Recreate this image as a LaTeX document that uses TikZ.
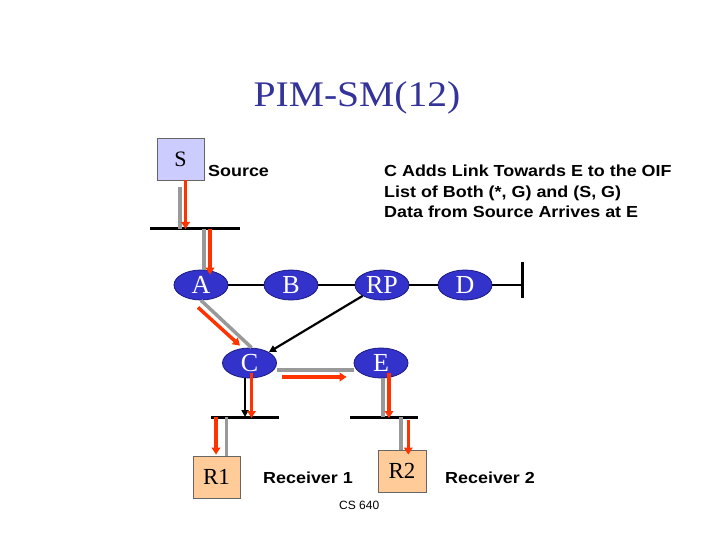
\documentclass[tikz,border=0pt]{standalone}
\usepackage{fontspec}
\setmainfont{Liberation Serif}
\newfontfamily\arialfont{Liberation Sans}
\usetikzlibrary{arrows.meta,shapes.geometric}
\definecolor{titleblue}{HTML}{333399}
\definecolor{nodeblue}{HTML}{3333CC}
\definecolor{nodeline}{HTML}{1A1A80}
\definecolor{srcfill}{HTML}{CCCCFF}
\definecolor{rcvfill}{HTML}{FFCC99}
\definecolor{redarr}{HTML}{FF3300}
\definecolor{grayline}{HTML}{999999}
\newcommand{\wide}[1]{\scalebox{1.12}[1]{#1}}
\tikzset{
  router/.style={ellipse,draw=nodeline,line width=0.8pt,fill=nodeblue,text=white,
    minimum width=54pt,minimum height=30pt,inner sep=0pt,
    font=\fontsize{26}{26}\selectfont},
  hostbox/.style={rectangle,draw=black!60,line width=0.8pt,inner sep=0pt,
    minimum width=47pt,minimum height=42pt},
  lbl/.style={anchor=base west,inner sep=0pt,font=\arialfont\bfseries\fontsize{16}{19}\selectfont},
  bus/.style={line width=3pt,black},
  link/.style={line width=2.7pt,black},
  gline/.style={line width=3.5pt,grayline},
  rarrow/.style={line width=3.5pt,redarr,-{Triangle[length=7pt,width=8.5pt]}},
  barrow/.style={line width=2.2pt,black,-{Triangle[length=7pt,width=7pt]}}
}
\begin{document}
\begin{tikzpicture}[x=1pt,y=-1pt]
\useasboundingbox (0,0) rectangle (720,540);
% title
\node[anchor=base,inner sep=0pt,text=titleblue,font=\fontsize{36}{36}\selectfont] (title) at (357,107) {\scalebox{1.1}[1]{PIM-SM(12)}};
% hosts
\node[hostbox,fill=srcfill,font=\fontsize{22}{22}\selectfont] (S) at (180.5,159) {S};
\node[hostbox,fill=rcvfill,font=\fontsize{23}{23}\selectfont] (R1) at (216.5,477) {R1};
\node[hostbox,fill=rcvfill,minimum width=48pt,font=\fontsize{23}{23}\selectfont] (R2) at (402,471) {R2};
% routers
\node[router] (A) at (201,285) {A};
\node[router] (B) at (291,285) {B};
\node[router] (RP) at (382,285) {RP};
\node[router] (D) at (465,285) {D};
\node[router] (C) at (249.5,363) {C};
\node[router] (E) at (381,363) {E};
% labels
\node[lbl] (src) at (208,176.5) {\wide{Source}};
\node[lbl] (t1) at (384,176.5) {\wide{C Adds Link Towards E to the OIF}};
\node[lbl] (t2) at (384,197) {\wide{List of Both (*, G) and (S, G)}};
\node[lbl] (t3) at (384,217.5) {\wide{Data from Source Arrives at E}};
\node[lbl] (rc1) at (263,483) {\wide{Receiver 1}};
\node[lbl] (rc2) at (445,483) {\wide{Receiver 2}};
\node[anchor=base west,inner sep=0pt,font=\arialfont\fontsize{12}{14}\selectfont] (cs) at (339,509) {CS 640};
% buses
\coordinate (b1w) at (150,229); \coordinate (b1e) at (240,229);
\coordinate (b2w) at (211,417); \coordinate (b2e) at (279,417);
\coordinate (b3w) at (350,417); \coordinate (b3e) at (418,417);
\coordinate (bart) at (522,262); \coordinate (barb) at (522,298);
\draw[bus] (b1w) -- (b1e);
\draw[bus] (b2w) -- (b2e);
\draw[bus] (b3w) -- (b3e);
\draw[bus] (bart) -- (barb);
% router links
\draw[link] (A.east) -- (B.west);
\draw[link] (B.east) -- (RP.west);
\draw[link] (RP.east) -- (D.west);
\draw[link] (D.east) -- (D.east -| bart);
% S to bus1
\draw[gline] ([xshift=-0.5pt,yshift=-7pt]S.south) -- ([xshift=-0.5pt]S.south |- b1w);
\draw[rarrow] ([xshift=5pt]S.south) -- ([xshift=5pt]S.south |- b1w);
% bus1 to A
\draw[gline] ([xshift=3pt]A.north |- b1w) -- ([xshift=3pt]A.north);
\draw[rarrow] ([xshift=9pt]A.north |- b1w) -- ([xshift=9pt,yshift=-5pt]A.north);
% A to C
\draw[gline] (A.south) -- ([xshift=2pt]C.north);
\draw[rarrow] ([xshift=-3pt,yshift=-7pt]A.south) -- ([xshift=-9.5pt,yshift=2pt]C.north);
% RP to C
\draw[barrow] (RP.south west) -- (C.north east);
% C to E
\draw[gline] ([yshift=-7pt]C.east) -- ([yshift=-7pt]E.west);
\draw[rarrow] ([xshift=5pt,yshift=-14pt]C.east) -- ([xshift=-7pt,yshift=-14pt]E.west);
% C to bus2
\draw[barrow] ([xshift=-4.5pt]C.south) -- ([xshift=-4.5pt]C.south |- b2w);
\draw[rarrow] ([xshift=2pt,yshift=5pt]C.south) -- ([xshift=2pt,yshift=-1pt]C.south |- b2w);
% E to bus3
\draw[gline] ([xshift=2pt]E.south) -- ([xshift=2pt]E.south |- b3w);
\draw[rarrow] ([xshift=8pt,yshift=5pt]E.south) -- ([xshift=8pt,yshift=-1pt]E.south |- b3w);
% bus2 to R1
\draw[gline] ([xshift=10pt]R1.north |- b2w) -- ([xshift=10pt]R1.north);
\draw[rarrow] ([xshift=-0.5pt]R1.north |- b2w) -- ([xshift=-0.5pt,yshift=1pt]R1.north);
% bus3 to R2
\draw[gline] ([xshift=-1pt]R2.north |- b3w) -- ([xshift=-1pt]R2.north);
\draw[rarrow] ([xshift=6.3pt,yshift=-3pt]R2.north |- b3w) -- ([xshift=6.3pt,yshift=-5pt]R2.north);
\end{tikzpicture}
\end{document}
